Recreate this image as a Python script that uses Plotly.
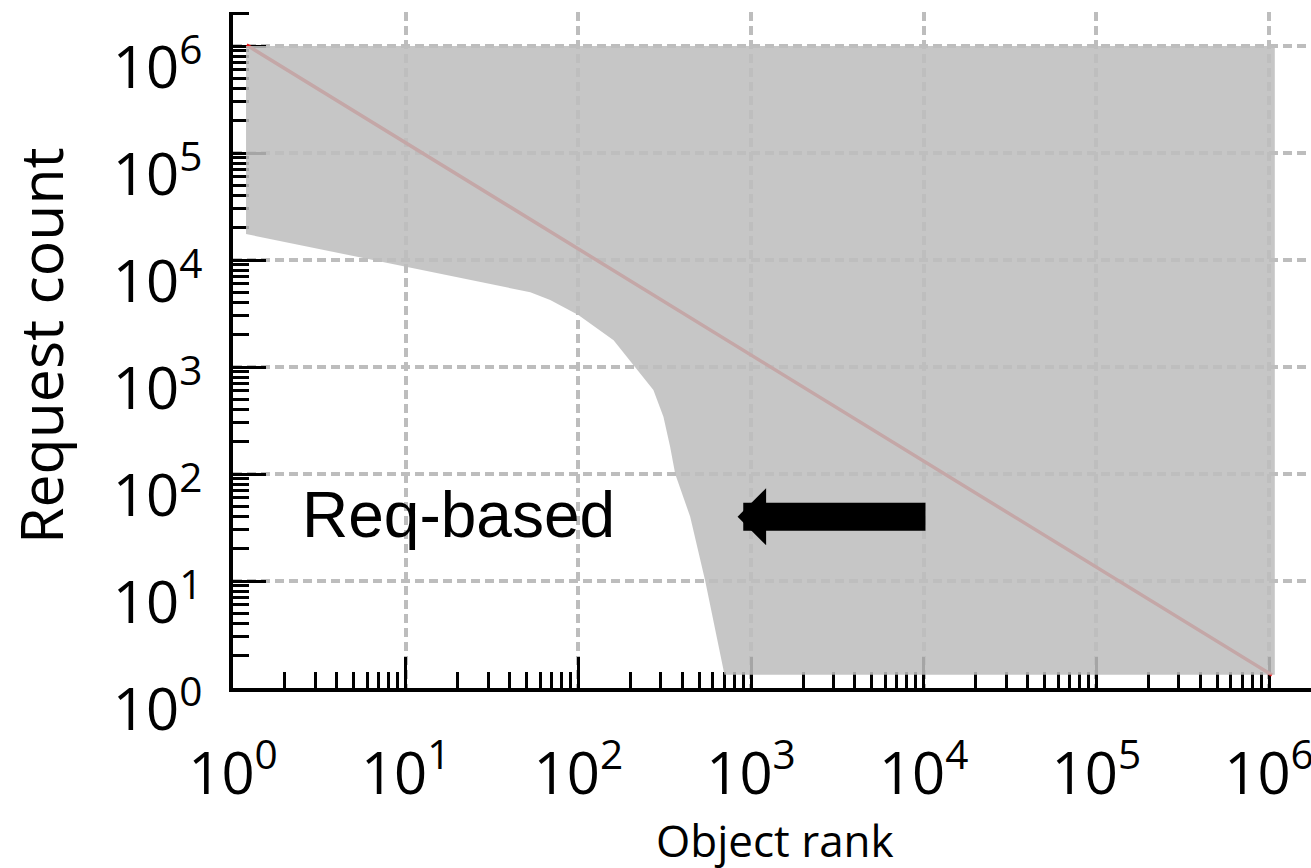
import plotly.graph_objects as go

# ---- data ----
rank_lower = [1.19, 29.5, 52.7, 68.7, 100, 160, 213, 272, 311, 340, 364, 444, 543, 702, 1.08e6]
count_lower = [17500, 6000, 5000, 4230, 3060, 1780, 1000, 609, 343, 180, 100, 40, 10, 1.33, 1.33]
rank_upper = [1.08e6, 1.19]
count_upper = [1e6, 1e6]
line_rank = [1.2, 1.04e6]
line_count = [1.02e6, 1.32]

decades = [0, 1, 2, 3, 4, 5, 6]
major_vals = [10 ** d for d in decades]
tick_text = ["10<sup>%d</sup>" % d for d in decades]
minor_vals = [k * 10 ** d for d in decades for k in range(2, 10)]

GRID = "#bdbdbd"

fig = go.Figure()
# red reference line (drawn first, the translucent grey region lies over it)
fig.add_trace(go.Scatter(x=line_rank, y=line_count, mode="lines",
                         line=dict(color="rgb(235,20,20)", width=3.5),
                         hoverinfo="skip", showlegend=False))
# grey region
fig.add_trace(go.Scatter(x=rank_lower + rank_upper, y=count_lower + count_upper,
                         mode="lines", fill="toself",
                         fillcolor="rgba(190,190,190,0.87)",
                         line=dict(width=0, color="rgba(0,0,0,0)"),
                         hoverinfo="skip", showlegend=False))

axis_common = dict(
    type="log", tickvals=major_vals, ticktext=tick_text,
    ticks="inside", tickwidth=3, tickcolor="black",
    showline=True, linecolor="black", linewidth=4,
    showgrid=True, gridcolor=GRID, gridwidth=3.5, griddash="9px,5px",
    zeroline=False, layer="below traces", automargin=False,
    ticklabeloverflow="allow",
    tickfont=dict(family="Open Sans", size=58, color="black"),
    minor=dict(tickvals=minor_vals, ticks="inside", ticklen=16, tickwidth=2.5,
               tickcolor="black", showgrid=False),
)

fig.update_layout(
    width=1311, height=868,
    margin=dict(l=233, r=0, t=12, b=180),
    paper_bgcolor="white", plot_bgcolor="white",
    showlegend=False,
    xaxis=dict(axis_common, range=[0, 6.243], ticklen=31, ticklabelstandoff=32),
    yaxis=dict(axis_common, range=[0, 6.318], ticklen=33, ticklabelstandoff=15,
               ticklabelshift=22),
    annotations=[
        dict(text="Req-based", x=0.389, y=1.617, xref="x", yref="y",
             xanchor="left", yanchor="middle", showarrow=False,
             font=dict(family="Liberation Sans", size=64, color="black")),
        dict(text="", x=2.922, y=1.601, ax=4.019, ay=1.601,
             xref="x", yref="y", axref="x", ayref="y",
             showarrow=True, arrowhead=1, arrowsize=0.34, arrowwidth=28,
             arrowcolor="black", standoff=0),
        dict(text="Object rank", x=0.503, y=-0.225, xref="paper", yref="paper",
             xanchor="center", yanchor="middle", showarrow=False,
             font=dict(family="Open Sans", size=44, color="black")),
        dict(text="Request count", x=-0.179, y=0.506, xref="paper", yref="paper",
             xanchor="center", yanchor="middle", showarrow=False, textangle=-90,
             font=dict(family="Open Sans", size=59, color="black")),
    ],
)

fig.write_html("out.html", config={"displayModeBar": False},
               post_script="document.body.style.margin='0';document.body.style.overflow='hidden';")
